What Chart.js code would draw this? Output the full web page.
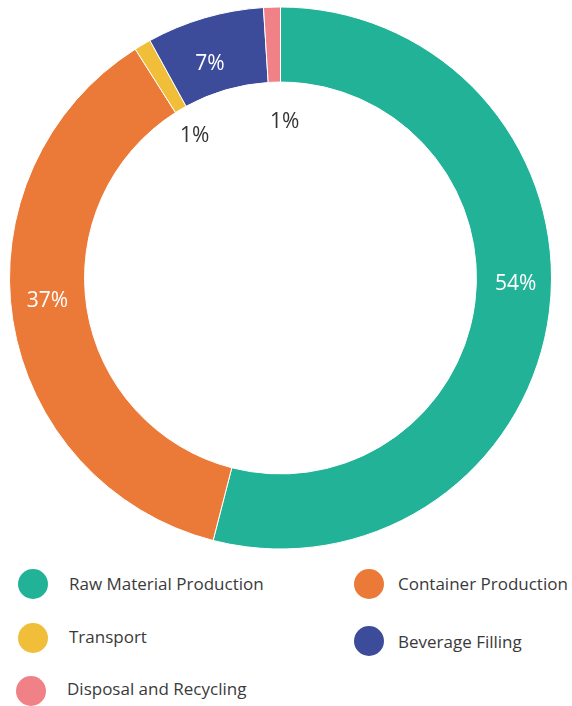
<!DOCTYPE html>
<html>
<head>
<meta charset="utf-8">
<script src="https://cdn.jsdelivr.net/npm/chart.js@4"></script>
<style>
  html, body { margin: 0; padding: 0; background: #fff; }
  body { width: 572px; height: 706px; position: relative; overflow: hidden; font-family: "Open Sans", sans-serif; }
  #wrap { position: absolute; left: 0; top: 0; width: 572px; height: 556px; }
  .dot { position: absolute; width: 30px; height: 30px; border-radius: 50%; }
  .txt { position: absolute; color: #3a3a3a; font-size: 17px; line-height: 20px; white-space: nowrap; }
</style>
</head>
<body>
<div id="wrap"><canvas id="c" width="572" height="556"></canvas></div>
<div id="legend"></div>
<script>
// Emission share by life-cycle stage (%)
const stages = ["Raw Material Production", "Container Production", "Transport", "Beverage Filling", "Disposal and Recycling"];
const shares = [54, 37, 1, 7, 1];
const colors = ["#22B297", "#EB7938", "#F0BE38", "#3C4C9A", "#F08186"];

// Label placement per slice: angular nudge (degrees) and distance from the centre
// as a fraction of the outer radius. Thin slices put their label inside the hole.
const labelShift = [-6.0, 3.6, -0.4, -2.0, 3.3];
const labelDist = [0.868, 0.864, 0.614, 0.835, 0.581];
const labelDark = [false, false, true, false, true];

const sliceLabels = {
  id: "sliceLabels",
  afterDatasetsDraw(chart) {
    const ctx = chart.ctx;
    const meta = chart.getDatasetMeta(0);
    ctx.save();
    ctx.font = "400 21px 'Open Sans', sans-serif";
    ctx.textAlign = "center";
    ctx.textBaseline = "middle";
    meta.data.forEach((arc, i) => {
      const mid = (arc.startAngle + arc.endAngle) / 2 + labelShift[i] * Math.PI / 180;
      const r = arc.outerRadius * labelDist[i];
      const x = arc.x + Math.cos(mid) * r;
      const y = arc.y + Math.sin(mid) * r;
      ctx.fillStyle = labelDark[i] ? "#333333" : "#ffffff";
      ctx.fillText(shares[i] + "%", x, y + 1);
    });
    ctx.restore();
  }
};

new Chart(document.getElementById("c"), {
  type: "doughnut",
  data: {
    labels: stages,
    datasets: [{
      data: shares,
      backgroundColor: colors,
      borderColor: "#ffffff",
      borderWidth: 1
    }]
  },
  options: {
    responsive: false,
    animation: false,
    cutout: "72.3%",
    layout: { padding: { left: 9, right: 20, top: 6, bottom: 6 } },
    plugins: { legend: { display: false }, tooltip: { enabled: false } }
  },
  plugins: [sliceLabels]
});

// Legend below the ring, two columns: dot centre and text start/centre line
const dotAt = [[33, 584], [369, 584], [33, 638], [369, 641], [31, 691]];
const textAt = [[69, 584], [398, 584], [69, 637], [398, 642], [67, 689]];
const legend = document.getElementById("legend");
stages.forEach((name, i) => {
  const dot = document.createElement("div");
  dot.className = "dot";
  dot.style.background = colors[i];
  dot.style.left = (dotAt[i][0] - 15) + "px";
  dot.style.top = (dotAt[i][1] - 15) + "px";
  legend.appendChild(dot);
  const txt = document.createElement("div");
  txt.className = "txt";
  txt.textContent = name;
  txt.style.left = textAt[i][0] + "px";
  txt.style.top = (textAt[i][1] - 10) + "px";
  legend.appendChild(txt);
});
</script>
</body>
</html>
